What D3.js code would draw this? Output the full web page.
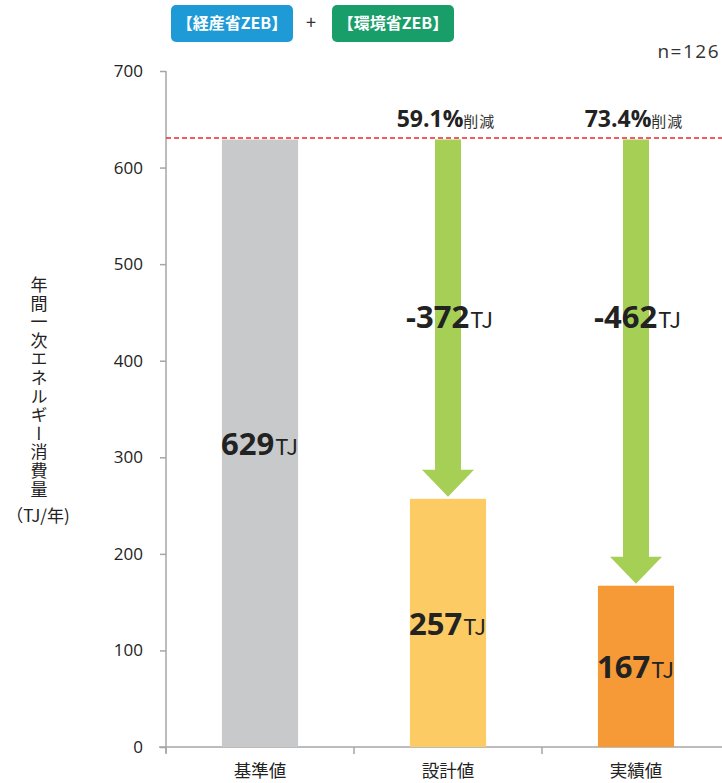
<!DOCTYPE html>
<html><head><meta charset="utf-8">
<script src="https://cdn.jsdelivr.net/npm/d3@7"></script>
<style>
html,body{margin:0;padding:0;background:#fff;}
svg{display:block;font-family:"Noto Sans CJK JP","Open Sans",sans-serif;}
</style></head>
<body>
<svg id="chart" width="722" height="783"></svg>
<script>
const categories = ["基準値", "設計値", "実績値"];
const values = [629, 257, 167];
const reductions = [null, 372, 462];
const reductionPct = [null, "59.1%", "73.4%"];
const yTicks = [0, 100, 200, 300, 400, 500, 600, 700];
const barColors = ["#C8C9CB", "#FCCB64", "#F59A36"];
const arrowColor = "#A6CF56";
const yTitle = "年間一次エネルギー消費量";
const yTitleUnit = "（TJ/年)";
const nLabel = "n=126";
const badges = [{text:"【経産省ZEB】", color:"#1E9BD7"}, {text:"【環境省ZEB】", color:"#1A9E69"}];

const svg = d3.select("#chart");
const numFont = "'Open Sans','Noto Sans CJK JP',sans-serif";

const y = d3.scaleLinear().domain([0, 700]).range([747, 71]);
const x = d3.scaleBand().domain(categories).range([166, 730]).padding(0);
const barW = x.bandwidth() * 0.405;

// y axis
const yAxis = svg.append("g").attr("transform", "translate(166,0)")
  .call(d3.axisLeft(y).tickValues(yTicks).tickSize(6).tickPadding(17).tickFormat(d3.format("d")));
yAxis.select(".domain").attr("stroke", "#A6A6A6").attr("stroke-width", 1.5).attr("d", "M0,71V753");
yAxis.selectAll(".tick line").attr("stroke", "#A6A6A6").attr("stroke-width", 1.5);
yAxis.selectAll(".tick text").attr("fill", "#222").style("font-size", "17px").style("font-family", numFont);

// x axis
const xg = svg.append("g").attr("transform", "translate(0,747)");
xg.append("line").attr("x1", 159).attr("x2", 722).attr("y1", 0).attr("y2", 0)
  .attr("stroke", "#A6A6A6").attr("stroke-width", 1.5);
xg.selectAll("line.bt").data(categories).join("line").attr("class", "bt")
  .attr("x1", d => x(d)).attr("x2", d => x(d)).attr("y1", 0).attr("y2", 7)
  .attr("stroke", "#A6A6A6").attr("stroke-width", 1.5);
xg.selectAll("text").data(categories).join("text")
  .attr("x", d => x(d) + x.bandwidth() / 2).attr("y", 30)
  .attr("text-anchor", "middle").attr("fill", "#222").style("font-size", "17.5px").text(d => d);

// bars
svg.selectAll("rect.bar").data(values).join("rect").attr("class", "bar")
  .attr("x", (d, i) => x(categories[i]) + x.bandwidth() / 2 - barW / 2)
  .attr("width", barW)
  .attr("y", d => y(d)).attr("height", d => y(0) - y(d))
  .attr("fill", (d, i) => barColors[i]);

// reference dashed line
svg.append("line").attr("x1", 166).attr("x2", 722)
  .attr("y1", y(values[0]) - 1.5).attr("y2", y(values[0]) - 1.5)
  .attr("stroke", "#F0262A").attr("stroke-width", 1.5).attr("stroke-dasharray", "5,3");

// arrows
const shaftW = 26, headW = 52, headH = 27;
const labelY = (y(values[0]) + y(values[1])) / 2 + 9;
reductions.forEach((r, i) => {
  if (r == null) return;
  const cx = x(categories[i]) + x.bandwidth() / 2;
  const y0 = y(values[0]);
  const y1 = y(values[i]) - 2;
  const p = d3.path();
  p.moveTo(cx - shaftW / 2, y0);
  p.lineTo(cx + shaftW / 2, y0);
  p.lineTo(cx + shaftW / 2, y1 - headH);
  p.lineTo(cx + headW / 2, y1 - headH);
  p.lineTo(cx, y1);
  p.lineTo(cx - headW / 2, y1 - headH);
  p.lineTo(cx - shaftW / 2, y1 - headH);
  p.closePath();
  svg.append("path").attr("d", p.toString()).attr("fill", arrowColor);

  // reduction label
  const t = svg.append("text").attr("x", cx + 2).attr("y", labelY)
    .attr("text-anchor", "middle").attr("fill", "#222");
  t.append("tspan").text("-" + r).style("font-size", "31px").style("font-weight", "bold").style("font-family", numFont);
  t.append("tspan").text("TJ").style("font-size", "22px").attr("dx", 1).style("letter-spacing", "1px");

  // percent label
  const pt = svg.append("text").attr("x", cx - 2).attr("y", 127)
    .attr("text-anchor", "middle").attr("fill", "#222");
  pt.append("tspan").text(reductionPct[i]).style("font-size", "23px").style("font-weight", "bold").style("font-family", numFont);
  pt.append("tspan").text("削減").style("font-size", "15px").style("letter-spacing", "1px").attr("fill", "#333");
});

// value labels
values.forEach((v, i) => {
  const cx = x(categories[i]) + x.bandwidth() / 2;
  const t = svg.append("text").attr("x", cx).attr("y", (y(v) + y(0)) / 2 + 12)
    .attr("text-anchor", "middle").attr("fill", "#222");
  t.append("tspan").text(v).style("font-size", "31px").style("font-weight", "bold").style("font-family", numFont);
  t.append("tspan").text("TJ").style("font-size", "22px").attr("dx", 1).style("letter-spacing", "1px");
});

// y title (vertical)
svg.append("text").attr("x", 39).attr("y", 276)
  .style("writing-mode", "vertical-rl").style("text-orientation", "upright")
  .style("letter-spacing", "1.6px")
  .attr("fill", "#222").style("font-size", "17px").text(yTitle);
svg.append("text").attr("x", 38).attr("y", 522).attr("text-anchor", "middle")
  .attr("fill", "#222").style("font-size", "17px").text(yTitleUnit);

// n label
svg.append("text").attr("x", 720).attr("y", 58).attr("text-anchor", "end")
  .attr("fill", "#333").style("font-size", "19px").style("letter-spacing", "1.5px")
  .style("font-family", numFont).text(nLabel);

// badges
const bx = [171, 332];
badges.forEach((b, i) => {
  svg.append("rect").attr("x", bx[i]).attr("y", 5).attr("width", 122).attr("height", 37)
    .attr("rx", 5).attr("fill", b.color);
  svg.append("text").attr("x", bx[i] + 61).attr("y", 29).attr("text-anchor", "middle")
    .attr("fill", "#fff").style("font-size", "16px").style("font-weight", "bold").text(b.text);
});
svg.append("text").attr("x", 311).attr("y", 29).attr("text-anchor", "middle")
  .attr("fill", "#333").style("font-size", "18px").text("+");
</script>
</body></html>
